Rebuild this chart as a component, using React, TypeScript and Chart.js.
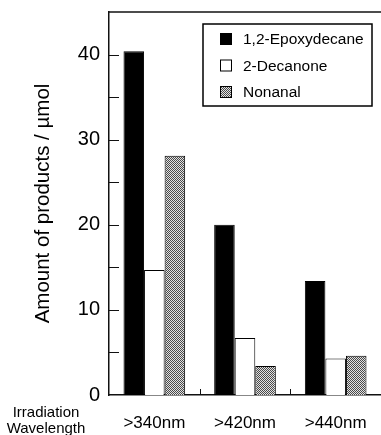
import React, { useEffect, useRef } from "react";
import { Chart, registerables } from "chart.js";

Chart.register(...registerables);

// Irradiation wavelength cut-offs
const categories = [">340nm", ">420nm", ">440nm"];

// Product amounts in µmol
const epoxydecane = [40.4, 20.0, 13.4];
const decanone = [14.7, 6.7, 4.3];
const nonanal = [28.1, 3.4, 4.6];

const seriesLabels = ["1,2-Epoxydecane", "2-Decanone", "Nonanal"];

const yTitle = "Amount of products / \u00b5mol";
const xSideTitle = ["Irradiation", "Wavelength"];

const FONT = "'Liberation Sans', Arial, Helvetica, sans-serif";

function makeDotPattern(ctx: CanvasRenderingContext2D): CanvasPattern | string {
  const c = document.createElement("canvas");
  c.width = 2;
  c.height = 2;
  const p = c.getContext("2d");
  if (!p) return "#999";
  p.fillStyle = "#e2e2e2";
  p.fillRect(0, 0, 2, 2);
  p.fillStyle = "#4a4a4a";
  p.fillRect(0, 0, 1, 1);
  p.fillRect(1, 1, 1, 1);
  return ctx.createPattern(c, "repeat") || "#999";
}

// Frame line on top, inward tick marks, boxed legend, side label under the y axis
const decorations = {
  id: "decorations",
  afterDraw(chart: any) {
    const { ctx, chartArea } = chart;
    const x = chart.scales.x;
    const y = chart.scales.y;
    ctx.save();
    ctx.strokeStyle = "#111";
    ctx.lineWidth = 1.5;
    ctx.beginPath();
    ctx.moveTo(chartArea.left, chartArea.top);
    ctx.lineTo(chartArea.right, chartArea.top);
    ctx.stroke();

    // y ticks pointing into the plot
    ctx.lineWidth = 1;
    ctx.beginPath();
    y.ticks.forEach((t: any) => {
      if (t.value <= y.min || t.value >= y.max) return;
      const py = Math.round(y.getPixelForValue(t.value)) + 0.5;
      ctx.moveTo(chartArea.left, py);
      ctx.lineTo(chartArea.left + 10, py);
    });
    // x ticks on category boundaries
    for (let i = 1; i < categories.length; i++) {
      const px = Math.round((x.getPixelForValue(i - 1) + x.getPixelForValue(i)) / 2) + 0.5;
      ctx.moveTo(px, chartArea.bottom);
      ctx.lineTo(px, chartArea.bottom - 6);
    }
    ctx.stroke();

    // legend
    const datasets = chart.data.datasets;
    const boxLeft = chartArea.right - 178;
    const boxTop = chartArea.top + 12;
    const boxW = 169;
    const boxH = 82;
    ctx.lineWidth = 1.5;
    ctx.strokeStyle = "#000";
    ctx.strokeRect(boxLeft, boxTop, boxW, boxH);
    ctx.font = `15.5px ${FONT}`;
    ctx.textBaseline = "middle";
    ctx.textAlign = "left";
    datasets.forEach((ds: any, i: number) => {
      const cy = boxTop + 15 + i * 26.5;
      ctx.fillStyle = ds.backgroundColor;
      ctx.fillRect(boxLeft + 17, cy - 6, 12, 12);
      ctx.lineWidth = 1;
      ctx.strokeStyle = "#000";
      ctx.strokeRect(boxLeft + 17.5, cy - 5.5, 11, 11);
      ctx.fillStyle = "#000";
      ctx.fillText(ds.label, boxLeft + 40, cy + 1);
    });

    // side caption for the category axis
    ctx.font = `15px ${FONT}`;
    ctx.textAlign = "center";
    ctx.fillStyle = "#000";
    xSideTitle.forEach((line, i) => {
      ctx.fillText(line, 46, 413 + i * 16);
    });
    ctx.restore();
  },
};

export default function App() {
  const ref = useRef<HTMLCanvasElement | null>(null);

  useEffect(() => {
    const canvas = ref.current;
    if (!canvas) return;
    const ctx = canvas.getContext("2d");
    if (!ctx) return;
    const pattern = makeDotPattern(ctx);

    const chart = new Chart(canvas, {
      type: "bar",
      data: {
        labels: categories,
        datasets: [
          { label: seriesLabels[0], data: epoxydecane, backgroundColor: "#000" },
          { label: seriesLabels[1], data: decanone, backgroundColor: "#fff" },
          { label: seriesLabels[2], data: nonanal, backgroundColor: pattern as any },
        ].map((d) => ({
          ...d,
          borderColor: "#000",
          borderWidth: 1,
          barPercentage: 1,
          categoryPercentage: 0.68,
        })),
      },
      options: {
        responsive: false,
        animation: false,
        layout: { padding: { left: 0, top: 12, right: 0, bottom: 0 } },
        plugins: {
          legend: { display: false },
          tooltip: { enabled: false },
        },
        scales: {
          x: {
            grid: { display: false, offset: true },
            border: { display: true, color: "#111", width: 1.5 },
            ticks: {
              color: "#000",
              padding: 10,
              maxRotation: 0,
              font: { family: FONT, size: 17 },
            },
            afterFit: (s: any) => {
              s.height = 40;
              s.paddingLeft = 0;
              s.paddingRight = 0;
            },
          },
          y: {
            min: 0,
            max: 45,
            grid: { display: false, drawTicks: false },
            border: { display: true, color: "#111", width: 1.5 },
            ticks: {
              stepSize: 5,
              color: "#000",
              padding: 9,
              font: { family: FONT, size: 20 },
              callback: (v: any) => (Number(v) % 10 === 0 ? String(v) : ""),
            },
            title: {
              display: true,
              text: yTitle,
              color: "#000",
              font: { family: FONT, size: 20.5 },
              padding: { top: 31, bottom: 0 },
            },
            afterFit: (s: any) => {
              s.width = 109;
              s.paddingTop = 0;
              s.paddingBottom = 0;
            },
          },
        },
      },
      plugins: [decorations],
    });
    return () => chart.destroy();
  }, []);

  return (
    <div style={{ position: "fixed", left: 0, top: 0, width: 381, height: 435, background: "#fff" }}>
      <canvas ref={ref} width={381} height={435} />
    </div>
  );
}
